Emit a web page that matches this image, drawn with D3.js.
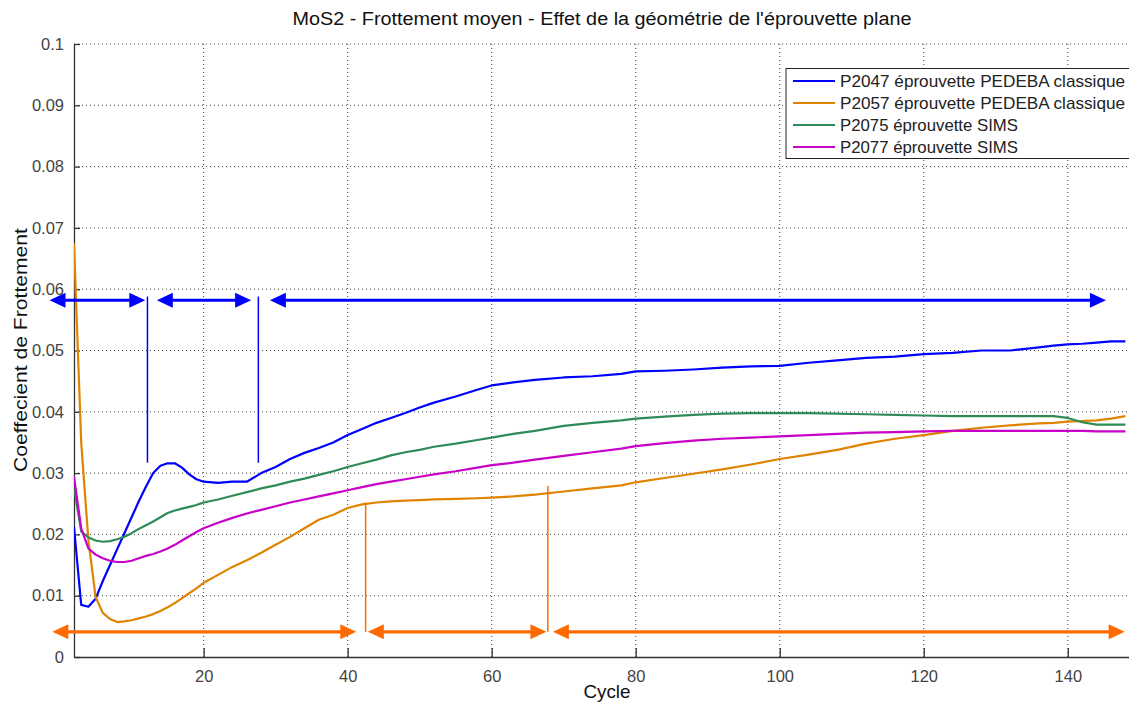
<!DOCTYPE html>
<html>
<head>
<meta charset="utf-8">
<script src="https://cdn.jsdelivr.net/npm/d3@7"></script>
<style>
  html, body { margin: 0; padding: 0; background: #fff; }
  svg { display: block; font-family: "Liberation Sans", Arial, sans-serif; }
</style>
</head>
<body>
<svg id="chart" width="1129" height="702"></svg>
<script>
// ---------------- DATA ----------------
const cycles = [2,3,4,5,6,7,8,9,10,11,12,13,14,15,16,17,18,19,20,22,24,26,28,30,32,34,36,38,40,42,44,46,48,50,52,55,58,60,63,66,70,74,78,80,84,88,92,96,100,104,108,112,116,120,124,128,132,136,138,140,142,144,146,148];

const p2047 = [0.0212,0.0085,0.0082,0.0095,0.0124,0.0150,0.0176,0.0202,0.0228,0.0254,0.0278,0.0300,0.0312,0.0316,0.0316,0.0309,0.0298,0.0290,0.0286,0.0284,0.0286,0.0286,0.0300,0.0310,0.0323,0.0333,0.0341,0.0350,0.0362,0.0372,0.0382,0.0390,0.0398,0.0407,0.0415,0.0425,0.0436,0.0443,0.0448,0.0452,0.0456,0.0458,0.0462,0.0466,0.0467,0.0469,0.0472,0.0474,0.0475,0.0480,0.0484,0.0488,0.0490,0.0494,0.0496,0.0500,0.0500,0.0505,0.0508,0.0510,0.0511,0.0513,0.0515,0.0515];

const p2057 = [0.0675,0.0350,0.0190,0.0098,0.0072,0.0062,0.0057,0.0058,0.0060,0.0063,0.0066,0.0070,0.0075,0.0081,0.0088,0.0096,0.0104,0.0112,0.0121,0.0134,0.0147,0.0158,0.0170,0.0183,0.0196,0.0210,0.0224,0.0232,0.0243,0.0249,0.0252,0.0254,0.0255,0.0256,0.0257,0.0258,0.0259,0.0260,0.0262,0.0265,0.0270,0.0275,0.0280,0.0285,0.0292,0.0299,0.0306,0.0314,0.0323,0.0330,0.0338,0.0348,0.0356,0.0362,0.0369,0.0374,0.0378,0.0381,0.0382,0.0384,0.0385,0.0386,0.0389,0.0393];

const p2075 = [0.0276,0.0205,0.0195,0.0190,0.0188,0.0189,0.0192,0.0196,0.0202,0.0209,0.0215,0.0221,0.0228,0.0235,0.0239,0.0242,0.0245,0.0248,0.0252,0.0257,0.0263,0.0269,0.0275,0.0280,0.0286,0.0291,0.0297,0.0303,0.0310,0.0316,0.0322,0.0329,0.0334,0.0338,0.0343,0.0348,0.0354,0.0358,0.0364,0.0369,0.0377,0.0382,0.0386,0.0389,0.0392,0.0395,0.0397,0.0398,0.0398,0.0398,0.0397,0.0396,0.0395,0.0394,0.0393,0.0393,0.0393,0.0393,0.0393,0.0390,0.0383,0.0379,0.0379,0.0379];

const p2077 = [0.0294,0.0210,0.0177,0.0167,0.0161,0.0157,0.0155,0.0155,0.0157,0.0161,0.0165,0.0168,0.0172,0.0177,0.0183,0.0190,0.0197,0.0204,0.0210,0.0219,0.0227,0.0234,0.0240,0.0246,0.0252,0.0257,0.0262,0.0267,0.0272,0.0277,0.0282,0.0286,0.0290,0.0294,0.0298,0.0303,0.0309,0.0313,0.0317,0.0322,0.0328,0.0334,0.0340,0.0344,0.0349,0.0353,0.0356,0.0358,0.0360,0.0362,0.0364,0.0366,0.0367,0.0368,0.0369,0.0369,0.0369,0.0369,0.0369,0.0369,0.0369,0.0368,0.0368,0.0368];

const seriesNames = ["P2047 éprouvette PEDEBA classique","P2057 éprouvette PEDEBA classique","P2075 éprouvette SIMS","P2077 éprouvette SIMS"];
const seriesValues = [p2047, p2057, p2075, p2077];
const seriesColors = ["#0000ff","#e08300","#2e8b57","#c800c8"];

const xTicks = [20,40,60,80,100,120,140];
const yTicks = [0,0.01,0.02,0.03,0.04,0.05,0.06,0.07,0.08,0.09,0.1];
const yTickLabels = ["0","0.01","0.02","0.03","0.04","0.05","0.06","0.07","0.08","0.09","0.1"];

// annotation phases (cycle intervals) and separators
const blueArrowY = 0.0582;
const blueArrows = [[-1.4,11.9],[13.5,26.6],[29.2,145.3]];
const blueSeparators = [12.2, 27.6];
const blueSepRange = [0.0317, 0.0588];
const orangeArrowY = 0.0041;
const orangeArrows = [[-1.0,41.2],[42.8,67.6],[68.5,147.9]];
const orangeSeparators = [42.5, 67.8];
const orangeSepTops = [0.0252, 0.0279];

const titleText = "MoS2 - Frottement moyen - Effet de la géométrie de l'éprouvette plane";
const xLabel = "Cycle";
const yLabel = "Coeffecient de Frottement";

// ---------------- CHART ----------------
const svg = d3.select("#chart");
const x = d3.scaleLinear().domain([2, 148.5]).range([74, 1129]);
const y = d3.scaleLinear().domain([0, 0.1]).range([657, 44]);

// grid
const grid = svg.append("g");
grid.selectAll("line.gx").data(xTicks).join("line")
  .attr("x1", d => x(d)).attr("x2", d => x(d)).attr("y1", y(0)).attr("y2", y(0.1))
  .attr("stroke", "#444").attr("stroke-width", 1).attr("stroke-dasharray", "1,3");
grid.selectAll("line.gy").data(yTicks.slice(1)).join("line")
  .attr("x1", x(2)).attr("x2", 1129).attr("y1", d => y(d)).attr("y2", d => y(d))
  .attr("stroke", "#444").attr("stroke-width", 1).attr("stroke-dasharray", "1,3");

// axes
const xAxis = d3.axisBottom(x).tickValues(xTicks).tickSizeInner(-9).tickSizeOuter(0).tickPadding(13);
const yAxis = d3.axisLeft(y).tickValues(yTicks).tickFormat((d,i) => yTickLabels[i]).tickSizeInner(-6).tickSizeOuter(0).tickPadding(10);

const gx = svg.append("g").attr("transform", `translate(0,${y(0)})`).call(xAxis);
const gy = svg.append("g").attr("transform", `translate(${x(2)},0)`).call(yAxis);
[gx, gy].forEach(g => {
  g.select(".domain").attr("stroke", "#333").attr("stroke-width", 1.3);
  g.selectAll(".tick line").attr("stroke", "#333").attr("stroke-width", 1.3);
  g.selectAll(".tick text").attr("fill", "#444").style("font-size", "16.5px")
   .style("font-family", "'Liberation Sans', Arial, sans-serif");
});

// clip
svg.append("clipPath").attr("id", "clip").append("rect")
  .attr("x", x(2)).attr("y", y(0.1) - 2).attr("width", 1129 - x(2)).attr("height", y(0) - y(0.1) + 2);

const line = d3.line().x((d, i) => x(cycles[i])).y(d => y(d));
const curves = svg.append("g").attr("clip-path", "url(#clip)");
seriesValues.forEach((vals, k) => {
  curves.append("path").datum(vals)
    .attr("d", line).attr("fill", "none")
    .attr("stroke", seriesColors[k]).attr("stroke-width", 2.2)
    .attr("stroke-linejoin", "round");
});

// annotations
function drawArrow(g, a, b, yv, color) {
  const x1 = x(a), x2 = x(b), yy = y(yv);
  const hl = 16, hw = 7.5;
  g.append("line").attr("x1", x1 + hl - 2).attr("x2", x2 - hl + 2).attr("y1", yy).attr("y2", yy)
    .attr("stroke", color).attr("stroke-width", 3.2);
  g.append("path").attr("d", `M${x1},${yy} L${x1 + hl},${yy - hw} L${x1 + hl},${yy + hw} Z`).attr("fill", color);
  g.append("path").attr("d", `M${x2},${yy} L${x2 - hl},${yy - hw} L${x2 - hl},${yy + hw} Z`).attr("fill", color);
}
const ann = svg.append("g");
blueArrows.forEach(([a, b]) => drawArrow(ann, a, b, blueArrowY, "#0000ff"));
blueSeparators.forEach(c => {
  ann.append("line").attr("x1", x(c)).attr("x2", x(c))
    .attr("y1", y(blueSepRange[1])).attr("y2", y(blueSepRange[0]))
    .attr("stroke", "#0000ff").attr("stroke-width", 1.5);
});
orangeArrows.forEach(([a, b]) => drawArrow(ann, a, b, orangeArrowY, "#ff6a00"));
orangeSeparators.forEach((c, i) => {
  ann.append("line").attr("x1", x(c)).attr("x2", x(c))
    .attr("y1", y(orangeSepTops[i])).attr("y2", y(orangeArrowY))
    .attr("stroke", "#ff6a00").attr("stroke-width", 1.5);
});

// legend
const lg = svg.append("g");
lg.append("rect").attr("x", 786).attr("y", 68.5).attr("width", 350).attr("height", 90)
  .attr("fill", "#fff").attr("stroke", "#222").attr("stroke-width", 1);
const legendRowY = [81, 103, 125, 147];
const legendTextLen = [285, 285, 178, 178];
seriesNames.forEach((name, k) => {
  lg.append("line").attr("x1", 793).attr("x2", 835).attr("y1", legendRowY[k]).attr("y2", legendRowY[k])
    .attr("stroke", seriesColors[k]).attr("stroke-width", 2.2);
  lg.append("text").attr("x", 840).attr("y", legendRowY[k] + 6).text(name)
    .style("font-size", "17px").attr("fill", "#222")
    .attr("textLength", legendTextLen[k]).attr("lengthAdjust", "spacingAndGlyphs");
});

// texts
svg.append("text").attr("x", 602).attr("y", 25).attr("text-anchor", "middle")
  .style("font-size", "18px").attr("fill", "#111")
  .attr("textLength", 619).attr("lengthAdjust", "spacingAndGlyphs").text(titleText);
svg.append("text").attr("x", 607).attr("y", 698).attr("text-anchor", "middle")
  .style("font-size", "18.5px").attr("fill", "#111")
  .attr("textLength", 47).attr("lengthAdjust", "spacingAndGlyphs").text(xLabel);
svg.append("text").attr("transform", "translate(27,350) rotate(-90)").attr("text-anchor", "middle")
  .style("font-size", "19px").attr("fill", "#111")
  .attr("textLength", 244).attr("lengthAdjust", "spacingAndGlyphs").text(yLabel);
</script>
</body>
</html>
